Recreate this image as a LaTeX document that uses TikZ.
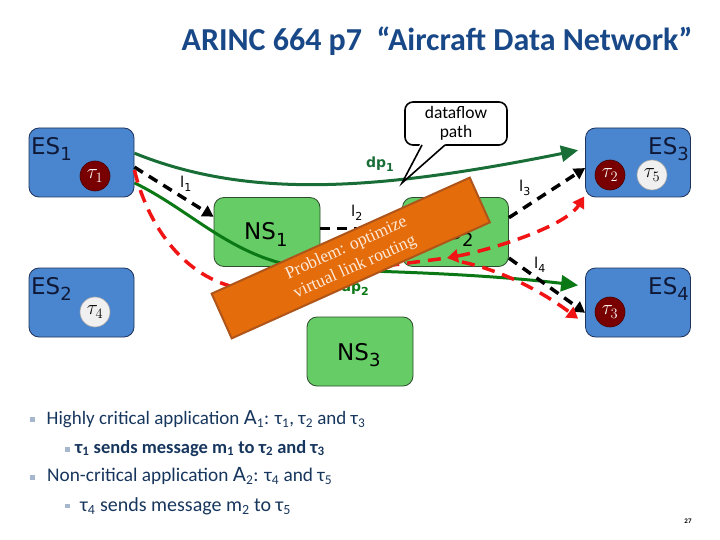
\documentclass[tikz,border=0pt]{standalone}
\usepackage{fontspec}
\setmainfont{Carlito}
\newfontfamily\dvs{DejaVu Sans}
\newfontfamily\bannerfont{Liberation Serif}
\usetikzlibrary{arrows.meta}

\definecolor{esblue}{RGB}{74,134,207}
\definecolor{esedge}{RGB}{30,50,90}
\definecolor{nsgreen}{RGB}{102,204,102}
\definecolor{nsedge}{RGB}{45,75,45}
\definecolor{dponecol}{RGB}{25,110,55}
\definecolor{dptwocol}{RGB}{10,120,20}
\definecolor{vlred}{RGB}{240,20,20}
\definecolor{taured}{RGB}{120,0,0}
\definecolor{taulight}{RGB}{240,240,240}
\definecolor{bannerfill}{RGB}{228,108,10}
\definecolor{banneredge}{RGB}{175,85,25}
\definecolor{bannertext}{RGB}{253,233,217}
\definecolor{titleblue}{RGB}{24,72,135}
\definecolor{textblue}{RGB}{23,54,93}
\definecolor{bulletcol}{RGB}{165,182,205}
\definecolor{labdark}{RGB}{15,25,55}

\newcommand\bigsub[2]{#1\raisebox{-6pt}{\fontsize{18}{18}\selectfont #2}}
\newcommand\smallsub[2]{#1\raisebox{-4pt}{\fontsize{11}{11}\selectfont #2}}

\tikzset{
  esbox/.style={draw=esedge, line width=0.8pt, fill=esblue, rounded corners=10pt,
    minimum width=105pt, minimum height=69pt, inner sep=0pt},
  nsbox/.style={draw=nsedge, line width=0.8pt, fill=nsgreen, rounded corners=10pt,
    minimum width=106pt, minimum height=69pt, inner sep=0pt},
  taudark/.style={circle, fill=taured, draw=taured!60!black, line width=0.6pt,
    minimum size=30pt, inner sep=0pt, text=white, font=\fontsize{20}{20}\selectfont},
  tault/.style={circle, fill=taulight, draw=gray!70, line width=0.6pt,
    minimum size=30pt, inner sep=0pt, text=black, font=\fontsize{20}{20}\selectfont},
  biglab/.style={inner sep=0pt, font=\dvs\fontsize{23}{23}\selectfont, text=labdark},
  linklab/.style={inner sep=0pt, font=\dvs\fontsize{15}{15}\selectfont, text=black},
  dplab/.style={inner sep=0pt, font=\dvs\bfseries\fontsize{14}{14}\selectfont},
  dpone/.style={draw=dponecol, line width=3pt, -{Triangle[length=17pt,width=16pt]}},
  dptwo/.style={draw=dptwocol, line width=3pt, -{Triangle[length=17pt,width=16pt]}},
  vlblack/.style={draw=black, line width=3.5pt, dash pattern=on 10pt off 7pt,
    -{Triangle[length=11pt,width=12pt]}},
  vlredline/.style={draw=vlred, line width=3.5pt, dash pattern=on 13pt off 8pt},
  vlredarr/.style={vlredline, -{Triangle[length=11pt,width=13pt]}},
  bullettext/.style={inner sep=0pt, anchor=base west, text=textblue},
}

\begin{document}
\begin{tikzpicture}[x=1pt, y=-1pt]
\useasboundingbox (0,0) rectangle (720,540);

% title
\node[anchor=base, inner sep=0pt, font=\bfseries\fontsize{32}{32}\selectfont, text=titleblue]
  (title) at (437,51) {ARINC 664 p7~~“Aircraft Data Network”};

% end systems
\node[esbox] (ES1) at (81.5,162.5) {};
\node[esbox] (ES2) at (81.5,302.5) {};
\node[esbox] (ES3) at (638,162.5) {};
\node[esbox] (ES4) at (638,302.5) {};
\node[biglab, anchor=base west] (es1lab) at (31,155) {\bigsub{ES}{1}};
\node[biglab, anchor=base west] (es2lab) at (31,294) {\bigsub{ES}{2}};
\node[biglab, anchor=base east] (es3lab) at (689,155) {\bigsub{ES}{3}};
\node[biglab, anchor=base east] (es4lab) at (689,294) {\bigsub{ES}{4}};

% tasks
\node[taudark] (t1) at (95,176) {$\tau_1$};
\node[tault]   (t4) at (95,312) {$\tau_4$};
\node[taudark] (t2) at (610,175) {$\tau_2$};
\node[tault]   (t5) at (652,175) {$\tau_5$};
\node[taudark] (t3) at (610,312) {$\tau_3$};

% network switches
\node[nsbox] (NS1) at (267,232) {};
\node[nsbox] (NS2) at (455.5,232) {};
\node[nsbox] (NS3) at (360,351.5) {};
\node[biglab, anchor=base west, text=black] (ns1lab) at (244,240) {\bigsub{NS}{1}};
\node[biglab, anchor=base west, text=black] (ns2lab) at (430,240) {\bigsub{NS}{2}};
\node[biglab, anchor=base west, text=black] (ns3lab) at (337,360) {\bigsub{NS}{3}};

% dataflow paths
\draw[dpone] (ES1.10) .. controls (250,200) and (380,190) .. ([xshift=-7pt]ES3.167);
\draw[dptwo] (ES1.-21) .. controls (200,215) and (240,268) .. (330,270)
   .. controls (420,272) and (500,276) .. ([xshift=-7pt]ES4.162);

% virtual links (black)
\draw[vlblack] (ES1.-5) -- (NS1.164);
\draw[vlblack] (NS1.4) -- (NS2.176);
\draw[vlblack] (NS2.15) -- (ES3.186);
\draw[vlblack] (NS2.-26) -- (ES4.191);

% virtual links (red)
\coordinate (rbend) at (230,286);
\coordinate (rtip) at (447,258);
\coordinate (rs4) at (462,262);
\draw[vlredline] (ES1.-8) .. controls (145,215) and (175,270) .. (rbend) -- (rtip);
\draw[vlredline, {Triangle[length=11pt,width=13pt]}-{Triangle[length=11pt,width=13pt]}]
  (rtip) .. controls (490,250) and (565,227) .. ([shift={(-1pt,-1pt)}]ES3.212);
\draw[vlredarr] (rs4) .. controls (500,270) and (540,290) .. ([xshift=-7pt]ES4.197);

% link labels
\node[linklab, anchor=base west] (l1) at (180,188) {\smallsub{l}{1}};
\node[linklab, anchor=base west] (l2) at (351,217) {\smallsub{l}{2}};
\node[linklab, anchor=base west] (l3) at (519,192) {\smallsub{l}{3}};
\node[linklab, anchor=base west] (l4) at (534,268) {\smallsub{l}{4}};
\node[dplab, text=dponecol, anchor=base west] (dp1) at (366,168) {\smallsub{dp}{1}};
\node[dplab, text=dptwocol, anchor=base west] (dp2) at (341,291) {\smallsub{dp}{2}};

% banner
\node[draw=banneredge, line width=2pt, fill=bannerfill, rotate=24.2,
  minimum width=283pt, minimum height=49pt, inner sep=0pt, align=center,
  text=bannertext, font=\bannerfont\fontsize{17.5}{21}\selectfont] (banner) at (350.75,258)
  {Problem: optimize\\virtual link routing};

% callout
\node[draw=black, line width=1.6pt, fill=white, rounded corners=8pt,
  minimum width=102pt, minimum height=43pt, inner sep=0pt, align=center,
  font=\fontsize{17.5}{19}\selectfont] (callout) at (456,123.5) {dataflow\\path};
\coordinate (cta) at (422,145);
\coordinate (ctb) at (445,145);
\coordinate (ctip) at (402,183);
\fill[white] (420.5,143.3) -- (ctip) -- (446.5,143.3) -- cycle;
\draw[line width=1.6pt, line join=miter] (cta) -- (ctip) -- (ctb);

% bullets
\fill[bulletcol] (30,417) rectangle (35,422);
\fill[bulletcol] (65,447) rectangle (69.5,451.5);
\fill[bulletcol] (30,475) rectangle (35,480);
\fill[bulletcol] (65,503.5) rectangle (69.5,508);
\node[bullettext, font=\fontsize{19}{19}\selectfont] (b1) at (46.5,424.5)
  {Highly critical application {\dvs A}\textsubscript{1}: τ\textsubscript{1}, τ\textsubscript{2} and τ\textsubscript{3}};
\node[bullettext, font=\bfseries\fontsize{18.5}{18.5}\selectfont] (b2) at (75,453)
  {τ\textsubscript{1} sends message m\textsubscript{1} to τ\textsubscript{2} and τ\textsubscript{3}};
\node[bullettext, font=\fontsize{19.3}{19.3}\selectfont] (b3) at (47,481.7)
  {Non-critical application {\dvs A}\textsubscript{2}: τ\textsubscript{4} and τ\textsubscript{5}};
\node[bullettext, font=\fontsize{20}{20}\selectfont] (b4) at (80,511.7)
  {τ\textsubscript{4} sends message m\textsubscript{2} to τ\textsubscript{5}};

% page number
\node[inner sep=0pt, font=\bfseries\fontsize{7}{7}\selectfont] (pnum) at (688,521) {27};
\end{tikzpicture}
\end{document}
